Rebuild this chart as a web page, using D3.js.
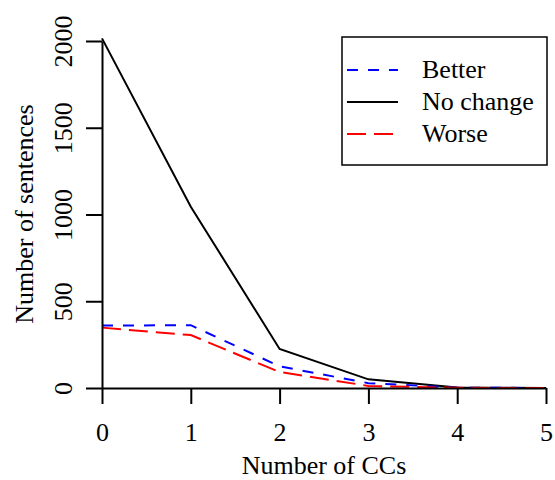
<!DOCTYPE html>
<html><head><meta charset="utf-8">
<script src="https://cdn.jsdelivr.net/npm/d3@7"></script>
<style>body{margin:0;background:#fff}svg{display:block}</style>
</head><body>
<script>
const ccs = [0, 1, 2, 3, 4, 5];
const better = [360, 362, 125, 28, 2, 0];
const noChange = [2015, 1045, 225, 50, 3, 0];
const worse = [348, 305, 92, 12, 1, 0];
const seriesNames = ["Better", "No change", "Worse"];
const xTicks = [0, 1, 2, 3, 4, 5];
const yTicks = [0, 500, 1000, 1500, 2000];

const W = 555, H = 480;
const mLeft = 102, mRight = 546, mTop = 41, mBottom = 388;
const font = "'Liberation Serif','Times New Roman',serif";

const svg = d3.select("body").append("svg").attr("width", W).attr("height", H);
const x = d3.scaleLinear().domain([0, 5]).range([mLeft, mRight]);
const y = d3.scaleLinear().domain([0, 2000]).range([mBottom, mTop]);

const series = [
  {name: seriesNames[1], values: noChange, color: "#000", dash: null},
  {name: seriesNames[0], values: better, color: "#0000ff", dash: "11,10"},
  {name: seriesNames[2], values: worse, color: "#ff0000", dash: "19,8"}
];

const line = d3.line().x((d, i) => x(ccs[i])).y(d => y(d));
series.forEach(s => {
  svg.append("path").datum(s.values).attr("d", line)
    .attr("fill", "none").attr("stroke", s.color).attr("stroke-width", 2)
    .attr("stroke-dasharray", s.dash);
});

// axes
const xAxis = svg.append("g").attr("transform", `translate(0,${mBottom})`)
  .call(d3.axisBottom(x).tickValues(xTicks).tickSize(16).tickSizeOuter(0).tickFormat(d3.format("d")));
xAxis.selectAll(".tick text").attr("y", 53).attr("dy", 0)
  .style("font-family", font).style("font-size", "26px").attr("fill", "#000");

const yAxis = svg.append("g").attr("transform", `translate(${mLeft},0)`)
  .call(d3.axisLeft(y).tickValues(yTicks).tickSize(16).tickSizeOuter(0).tickFormat(d3.format("d")));
yAxis.selectAll(".tick text").attr("x", 0).attr("dy", 0).attr("text-anchor", "middle")
  .attr("transform", "translate(-30,0) rotate(-90)")
  .style("font-family", font).style("font-size", "26px").attr("fill", "#000");

[xAxis, yAxis].forEach(g => {
  g.selectAll("path.domain").attr("stroke", "#000").attr("stroke-width", 2);
  g.selectAll(".tick line").attr("stroke", "#000").attr("stroke-width", 2);
});

// titles
svg.append("text").attr("x", (mLeft + mRight) / 2).attr("y", 474).attr("text-anchor", "middle")
  .style("font-family", font).style("font-size", "26px").text("Number of CCs");
svg.append("text").attr("transform", "translate(33,214) rotate(-90)").attr("text-anchor", "middle")
  .style("font-family", font).style("font-size", "26px").text("Number of sentences");

// legend
const lg = svg.append("g");
lg.append("rect").attr("x", 342).attr("y", 37).attr("width", 205).attr("height", 128)
  .attr("fill", "#fff").attr("stroke", "#000").attr("stroke-width", 1.5);
const legendItems = [series[1], series[0], series[2]];
legendItems.forEach((s, i) => {
  const by = 78 + i * 32;
  lg.append("line").attr("x1", 347).attr("x2", 398).attr("y1", by - 8).attr("y2", by - 8)
    .attr("stroke", s.color).attr("stroke-width", 2).attr("stroke-dasharray", s.dash);
  lg.append("text").attr("x", 422).attr("y", by)
    .style("font-family", font).style("font-size", "26px").text(s.name);
});
</script>
</body></html>
